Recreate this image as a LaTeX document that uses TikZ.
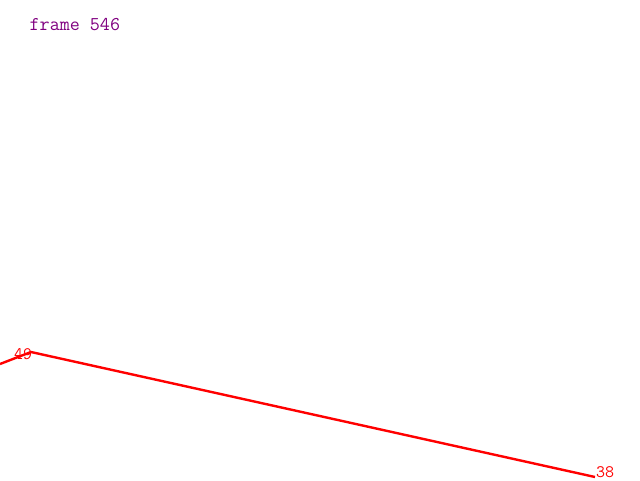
\documentclass[tikz,border=0pt]{standalone}
\definecolor{fpurple}{RGB}{128,0,128}
\begin{document}
\begin{tikzpicture}[x=1pt,y=-1pt,
  lbl/.style={text=red,font=\ttfamily\fontsize{17.5}{17.5}\selectfont,inner sep=0pt,anchor=base west},
  edge/.style={draw=red,line width=2.4pt}]
\useasboundingbox (0,0) rectangle (640,480);
\node[text=fpurple,font=\ttfamily\fontsize{19.5}{19.5}\selectfont,inner sep=0pt,anchor=base west] (title) at (29.5,30.5) {frame 546};
\coordinate (p0) at (0,364);
\coordinate (p49) at (31,352);
\coordinate (p38) at (595,477);
\draw[edge] (p0) -- (p49) -- (p38);
\node[lbl] (l49) at (14,359) {49};
\node[lbl] (l38) at (596,477.5) {38};
\end{tikzpicture}
\end{document}
